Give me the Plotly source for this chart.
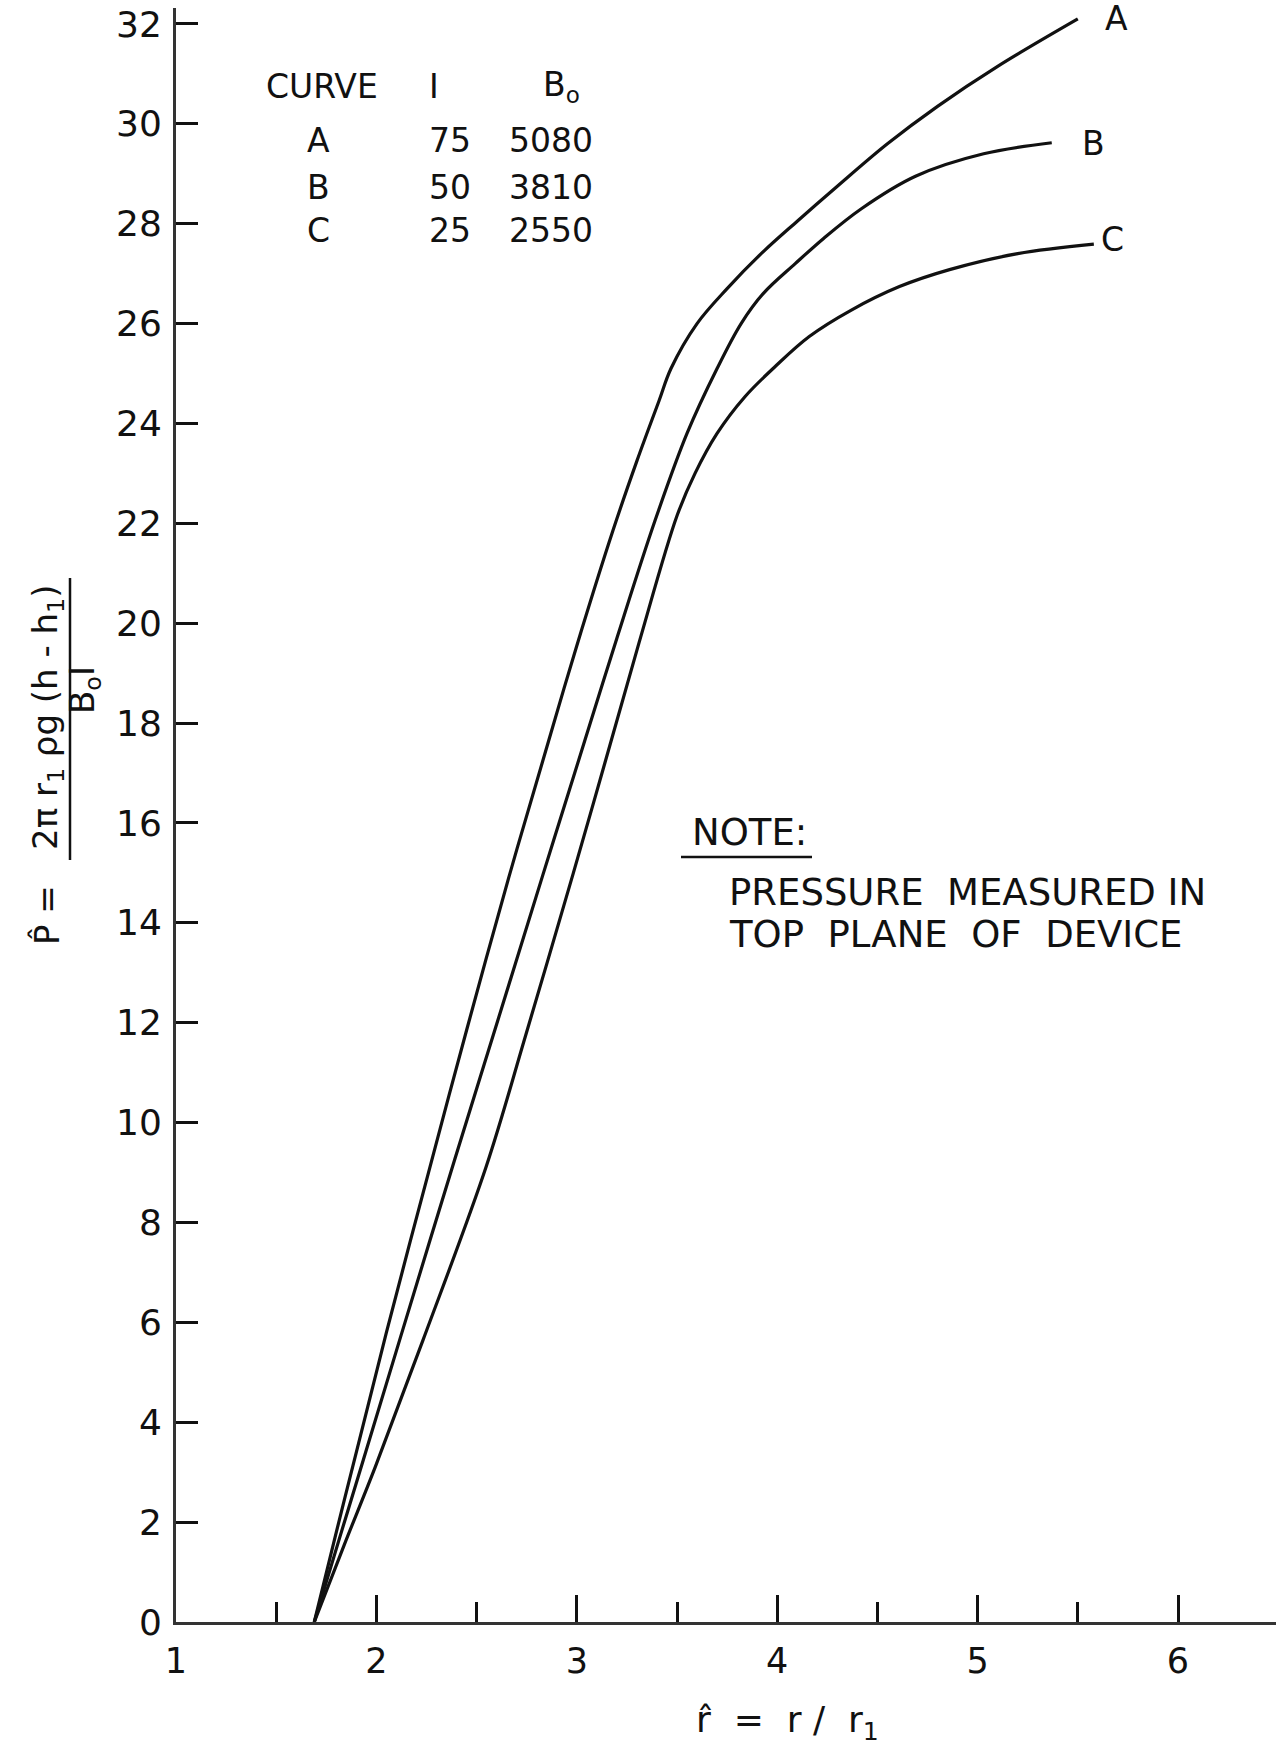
import plotly.graph_objects as go

# ---------------- data ----------------
curve_names = ["A", "B", "C"]
current_I = [75, 50, 25]
field_B0 = [5080, 3810, 2550]

a_r = [1.69, 1.80, 1.90, 2.05, 2.26, 2.45, 2.66, 2.86, 3.00, 3.18, 3.30, 3.41, 3.47,
       3.60, 3.75, 3.92, 4.10, 4.30, 4.55, 4.80, 5.10, 5.50]
a_p = [0.0, 1.8, 3.4, 5.8, 9.0, 11.85, 14.9, 17.65, 19.55, 21.85, 23.25, 24.45, 25.1,
       26.0, 26.7, 27.4, 28.05, 28.75, 29.6, 30.35, 31.15, 32.1]

b_r = [1.69, 1.81, 1.935, 2.12, 2.39, 2.61, 2.83, 3.04, 3.20, 3.39, 3.55, 3.70,
       3.82, 3.93, 4.09, 4.23, 4.42, 4.69, 5.03, 5.37]
b_p = [0.0, 1.6, 3.25, 5.7, 9.25, 12.1, 14.95, 17.65, 19.7, 22.05, 23.8, 25.1,
       26.0, 26.6, 27.2, 27.7, 28.3, 28.95, 29.4, 29.62]

c_r = [1.69, 1.84, 1.995, 2.233, 2.548, 2.745, 2.983, 3.14, 3.31, 3.50, 3.59, 3.70,
       3.84, 3.99, 4.16, 4.37, 4.61, 4.86, 5.20, 5.58]
c_p = [0.0, 1.55, 3.11, 5.65, 9.12, 11.75, 15.0, 17.2, 19.6, 22.15, 23.0, 23.8,
       24.54, 25.14, 25.74, 26.27, 26.74, 27.08, 27.40, 27.59]

x_tick_vals = [1, 2, 3, 4, 5, 6]
x_tick_text = ["1", "2", "3", "4", "5", "6"]
x_minor_vals = [1.5, 2.5, 3.5, 4.5, 5.5]
y_tick_vals = [0, 2, 4, 6, 8, 10, 12, 14, 16, 18, 20, 22, 24, 26, 28, 30, 32]
y_tick_text = [str(v) for v in y_tick_vals]

# ---------------- layout helpers ----------------
FW, FH = 1276, 1745
ML, MR, MT, MB = 176, 0, 8, 123
PW, PH = FW - ML - MR, FH - MT - MB
FONT = "DejaVu Sans"
INK = "#111111"


def px_x(px):
    return (px - ML) / PW


def px_y(py):
    return (FH - MB - py) / PH


def note(px, py, text, size, xanchor="left", angle=0):
    return dict(x=px_x(px), y=px_y(py), xref="paper", yref="paper", text=text,
                showarrow=False, xanchor=xanchor, yanchor="middle", textangle=angle,
                font=dict(family=FONT, size=size, color=INK))


fig = go.Figure()
series = [(a_r, a_p), (b_r, b_p), (c_r, c_p)]
for name, (xs, ys) in zip(curve_names, series):
    fig.add_trace(go.Scatter(
        x=xs, y=ys, mode="lines", name=name, showlegend=False,
        line=dict(color=INK, width=3.2, shape="spline", smoothing=1.0),
        hoverinfo="skip"))

annotations = []

# curve end labels
label_shift = {"A": (39, 0), "B": (42, -1), "C": (19, 5)}
for name, (xs, ys) in zip(curve_names, series):
    dx, dy = label_shift[name]
    annotations.append(dict(
        x=xs[-1], y=ys[-1], xref="x", yref="y", text=name, showarrow=False,
        xanchor="center", yanchor="middle",
        xshift=dx, yshift=dy, font=dict(family=FONT, size=33, color=INK)))

# table of curves
TS = 33
annotations.append(note(264, 87, "CURVE", TS))
annotations.append(note(434, 87, "I", TS, xanchor="center"))
annotations.append(note(541, 87, "B<sub>o</sub>", TS))
row_y = [141, 187, 230]
for name, cur, b0, ry in zip(curve_names, current_I, field_B0, row_y):
    annotations.append(note(318, ry, name, TS, xanchor="center"))
    annotations.append(note(473, ry, str(cur), TS, xanchor="right"))
    annotations.append(note(595, ry, str(b0), TS, xanchor="right"))

# note
NS = 37
annotations.append(note(690, 832, "NOTE:", NS))
annotations.append(note(727, 892, "PRESSURE\u00a0\u00a0MEASURED\u00a0IN", NS))
annotations.append(note(727, 934, "TOP\u00a0\u00a0PLANE\u00a0\u00a0OF\u00a0\u00a0DEVICE", NS))

# x axis title
annotations.append(note(787, 1722,
                        "r\u0302\u00a0\u00a0=\u00a0\u00a0r\u00a0/\u00a0\u00a0r<sub>1</sub>",
                        36, xanchor="center"))

# y axis title (fraction, rotated)
YS = 34
annotations.append(note(47, 915, "P\u0302\u00a0=", YS, xanchor="center", angle=-90))
annotations.append(note(47, 718,
                        "2\u03c0\u00a0r<sub>1</sub>\u00a0\u03c1g\u00a0(h\u00a0-\u00a0h<sub>1</sub>)",
                        YS, xanchor="center", angle=-90))
annotations.append(note(84, 690, "B<sub>o</sub>I", YS, xanchor="center", angle=-90))

shapes = [
    dict(type="line", xref="paper", yref="paper",
         x0=px_x(70), x1=px_x(70), y0=px_y(578), y1=px_y(860),
         line=dict(color=INK, width=2.5)),
    dict(type="line", xref="paper", yref="paper",
         x0=px_x(681), x1=px_x(812), y0=px_y(857), y1=px_y(857),
         line=dict(color=INK, width=2.5)),
]

fig.update_layout(
    width=FW, height=FH,
    margin=dict(l=ML, r=MR, t=MT, b=MB, pad=0),
    paper_bgcolor="white", plot_bgcolor="white",
    showlegend=False,
    annotations=annotations,
    shapes=shapes,
    xaxis=dict(
        range=[1.0, 1.0 + PW / 200.4],
        tickmode="array", tickvals=x_tick_vals, ticktext=x_tick_text,
        ticks="inside", ticklen=27, tickwidth=2.5, tickcolor=INK,
        showline=True, linecolor="#333333", linewidth=3,
        showgrid=False, zeroline=False, automargin=False,
        ticklabelstandoff=6,
        tickfont=dict(family=FONT, size=35, color=INK),
        minor=dict(tickmode="array", tickvals=x_minor_vals, ticks="inside",
                   ticklen=20, tickwidth=2.5, tickcolor=INK, showgrid=False),
    ),
    yaxis=dict(
        range=[0, PH / 49.94],
        tickmode="array", tickvals=y_tick_vals, ticktext=y_tick_text,
        ticks="inside", ticklen=22, tickwidth=2.5, tickcolor=INK,
        showline=True, linecolor="#333333", linewidth=3,
        showgrid=False, zeroline=False, automargin=False,
        ticklabelstandoff=4,
        tickfont=dict(family=FONT, size=36, color=INK),
    ),
)

fig.write_html("out.html", config={"displayModeBar": False},
               post_script="document.body.style.margin='0px';")
